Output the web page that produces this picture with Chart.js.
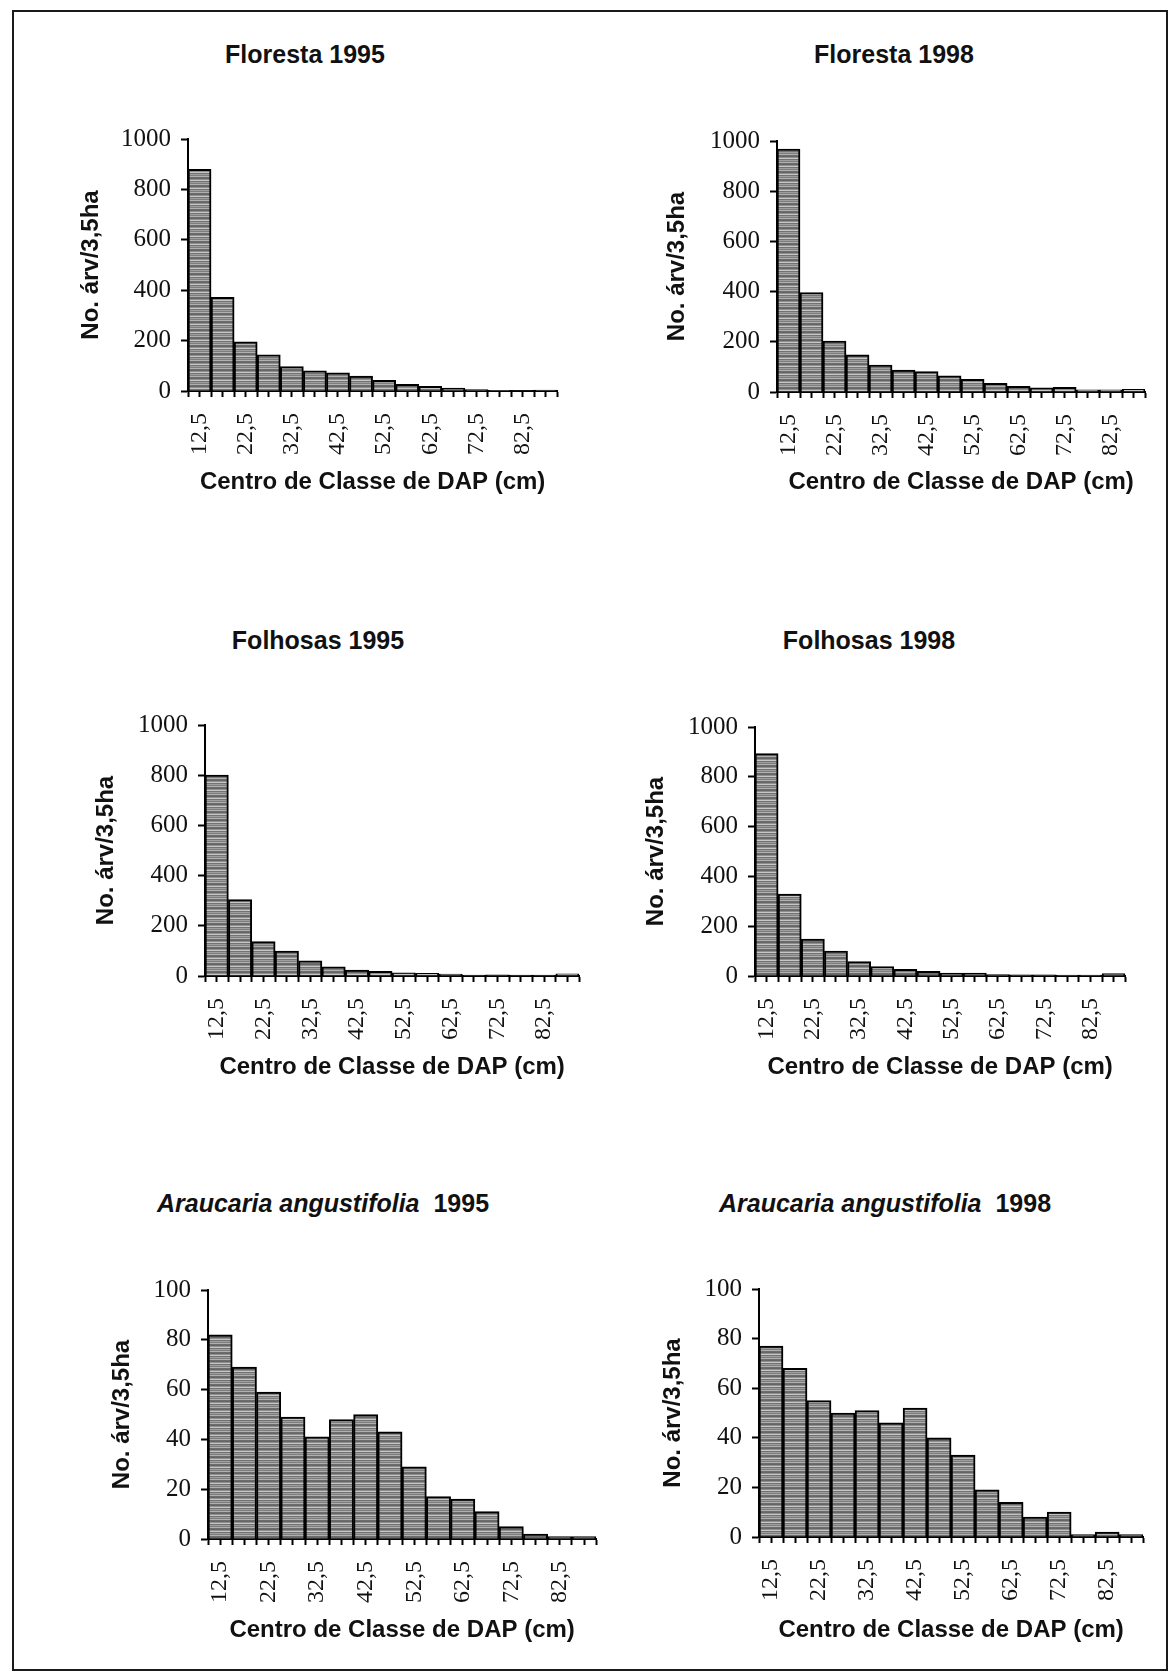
<!DOCTYPE html>
<html>
<head>
<meta charset="utf-8">
<script src="https://cdn.jsdelivr.net/npm/chart.js@4.4.1/dist/chart.umd.min.js"></script>
<style>
  html, body { margin: 0; padding: 0; background: #fff; }
  #page { position: relative; width: 1174px; height: 1677px; overflow: hidden; background: #fff; }
  #frame { position: absolute; left: 12px; top: 10px; width: 1152px; height: 1657px; border: 2px solid #1a1a1a; }
  .box { position: absolute; }
  .box canvas { display: block; }
  .heading { position: absolute; transform: translateX(-50%); white-space: nowrap;
             font: bold 25px "Liberation Sans", Arial, sans-serif; color: #111; line-height: 30px; }
</style>
</head>
<body>
<div id="page"><div id="frame"></div></div>
<script>
// Diameter class centres (cm) and the tick labels written under every second class
const classCenters = [12.5, 17.5, 22.5, 27.5, 32.5, 37.5, 42.5, 47.5, 52.5, 57.5, 62.5, 67.5, 72.5, 77.5, 82.5, 87.5];
const labelledCenters = [12.5, 22.5, 32.5, 42.5, 52.5, 62.5, 72.5, 82.5];
const tickLabels = ['12,5', '22,5', '32,5', '42,5', '52,5', '62,5', '72,5', '82,5'];

// Number of trees per 3,5 ha in each diameter class
const floresta1995  = [880, 372, 195, 144, 97, 80, 72, 59, 42, 26, 19, 12, 6, 3, 2, 4];
const floresta1998  = [968, 396, 203, 148, 107, 87, 81, 64, 50, 35, 23, 17, 19, 9, 9, 11];
const folhosas1995  = [800, 304, 137, 99, 60, 37, 24, 19, 13, 11, 8, 4, 5, 4, 4, 9];
const folhosas1998  = [893, 329, 148, 100, 58, 38, 27, 19, 12, 12, 6, 5, 5, 4, 4, 10];
const araucaria1995 = [82, 69, 59, 49, 41, 48, 50, 43, 29, 17, 16, 11, 5, 2, 1, 1];
const araucaria1998 = [77, 68, 55, 50, 51, 46, 52, 40, 33, 19, 14, 8, 10, 1, 2, 1];

const yTitle = 'No. árv/3,5ha';
const xTitle = 'Centro de Classe de DAP (cm)';

const SANS = '"Liberation Sans", Arial, sans-serif';
const SERIF = '"Liberation Serif", "Times New Roman", serif';

// Panel definitions: heading, series, value range and placement on the page
const panels = [
  { head: 'Floresta 1995', values: floresta1995, yMax: 1000, yStep: 200,
    headAt: [305, 54], box: [77, 114, 525, 383], yw: 111, xh: 106 },
  { head: 'Floresta 1998', values: floresta1998, yMax: 1000, yStep: 200,
    headAt: [894, 54], box: [663, 116, 527, 381], yw: 114, xh: 105 },
  { head: 'Folhosas 1995', values: folhosas1995, yMax: 1000, yStep: 200,
    headAt: [318, 640], box: [92, 700, 532, 382], yw: 113, xh: 106 },
  { head: 'Folhosas 1998', values: folhosas1998, yMax: 1000, yStep: 200,
    headAt: [869, 640], box: [642, 702, 528, 380], yw: 113, xh: 106 },
  { head: '<i>Araucaria angustifolia</i>&nbsp;&nbsp;1995', values: araucaria1995, yMax: 100, yStep: 20,
    headAt: [323, 1203], box: [108, 1265, 533, 380], yw: 100, xh: 106 },
  { head: '<i>Araucaria angustifolia</i>&nbsp;&nbsp;1998', values: araucaria1998, yMax: 100, yStep: 20,
    headAt: [885, 1203], box: [659, 1264, 529, 381], yw: 100, xh: 108 }
];

// Horizontal-line hatch used as the bar fill
function stripeFill(ctx) {
  const rows = ['#666666', '#8e8e8e', '#c6c6c6', '#727272', '#9e9e9e', '#7e7e7e', '#b0b0b0', '#6c6c6c'];
  const c = document.createElement('canvas');
  c.width = 8; c.height = rows.length;
  const g = c.getContext('2d');
  rows.forEach((col, i) => { g.fillStyle = col; g.fillRect(0, i, 8, 1); });
  return ctx.createPattern(c, 'repeat');
}

const page = document.getElementById('page');

panels.forEach(p => {
  const h = document.createElement('div');
  h.className = 'heading';
  h.innerHTML = p.head;
  h.style.left = p.headAt[0] + 'px';
  h.style.top = (p.headAt[1] - 15) + 'px';
  page.appendChild(h);

  const box = document.createElement('div');
  box.className = 'box';
  box.style.left = p.box[0] + 'px';
  box.style.top = p.box[1] + 'px';
  box.style.width = p.box[2] + 'px';
  box.style.height = p.box[3] + 'px';
  const cv = document.createElement('canvas');
  cv.width = p.box[2];
  cv.height = p.box[3];
  box.appendChild(cv);
  page.appendChild(box);

  const fill = stripeFill(cv.getContext('2d'));

  new Chart(cv, {
    type: 'bar',
    data: {
      datasets: [{
        data: classCenters.map((c, i) => ({ x: c, y: p.values[i] })),
        backgroundColor: fill,
        borderColor: '#000',
        borderWidth: 2,
        barThickness: 'flex',
        barPercentage: 1,
        categoryPercentage: 1
      }]
    },
    options: {
      responsive: false,
      animation: false,
      devicePixelRatio: 1,
      layout: { padding: { top: 16, right: 36, left: 0, bottom: 0 } },
      plugins: { legend: { display: false }, tooltip: { enabled: false } },
      scales: {
        x: {
          type: 'linear', min: 10, max: 90, offset: false,
          grid: { offset: false, drawOnChartArea: false, drawTicks: true, tickLength: 6, tickWidth: 2, tickColor: '#000' },
          border: { display: true, color: '#000', width: 2 },
          ticks: {
            stepSize: 2.5, autoSkip: false, minRotation: 90, maxRotation: 90, padding: 16,
            color: '#111', font: { family: SERIF, size: 24 },
            callback: v => { const k = labelledCenters.indexOf(v); return k >= 0 ? tickLabels[k] : ''; }
          },
          title: { display: true, text: xTitle, color: '#111', padding: 0,
                   font: { family: SANS, size: 24, weight: 'bold' } },
          afterFit: s => { s.height = p.xh; }
        },
        y: {
          min: 0, max: p.yMax,
          grid: { drawOnChartArea: false, tickLength: 7, tickWidth: 2, tickColor: '#000' },
          border: { display: true, color: '#000', width: 2 },
          ticks: { stepSize: p.yStep, padding: 10, color: '#111', font: { family: SERIF, size: 25 },
                   callback: v => String(v) },
          title: { display: true, text: yTitle, color: '#111', padding: 0,
                   font: { family: SANS, size: 24, weight: 'bold' } },
          afterFit: s => { s.width = p.yw; }
        }
      }
    }
  });
});
</script>
</body>
</html>
